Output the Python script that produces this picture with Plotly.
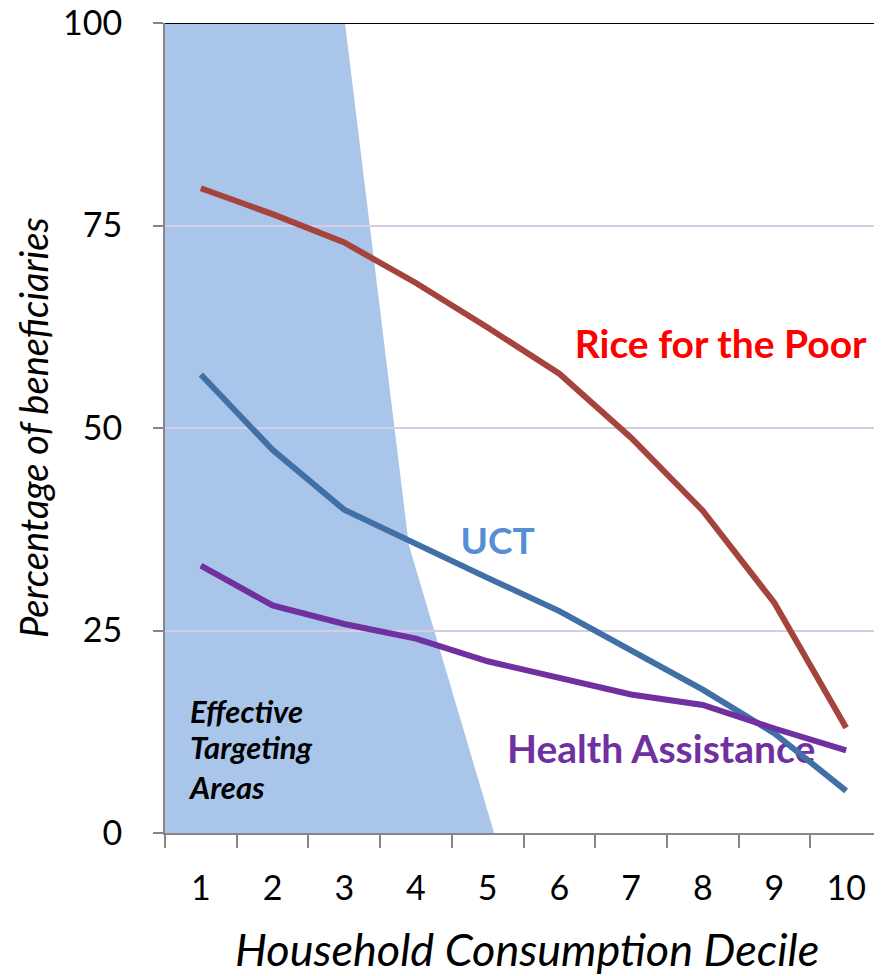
import plotly.graph_objects as go

deciles = [1, 2, 3, 4, 5, 6, 7, 8, 9, 10]
tick_labels = ["1", "2", "3", "4", "5", "6", "7", "8", "9", "10"]
rice = [79.6, 76.4, 72.9, 67.9, 62.4, 56.7, 48.8, 39.8, 28.4, 13.0]
uct = [56.6, 47.3, 39.9, 35.6, 31.5, 27.4, 22.6, 17.7, 12.3, 5.2]
health = [33.0, 28.1, 25.8, 24.0, 21.2, 19.1, 17.1, 15.8, 12.9, 10.2]

# Effective targeting area boundary (decile units, percent)
shade_x = [0.5, 3.01, 3.90, 5.09, 0.5]
shade_y = [100, 100, 35.6, 0, 0]

y_ticks = [0, 25, 50, 75, 100]

FONT = "Lato"

fig = go.Figure()

# Series labels (drawn under the lines)
fig.add_trace(go.Scatter(x=[8.25], y=[59.8], mode="text", text=["Rice for the Poor"],
                         textfont=dict(family=FONT, size=39, color="#FF0000", weight="bold"),
                         hoverinfo="skip", showlegend=False))
fig.add_trace(go.Scatter(x=[5.14], y=[35.6], mode="text", text=["UCT"],
                         textfont=dict(family=FONT, size=37, color="#558ED5", weight="bold"),
                         hoverinfo="skip", showlegend=False))
fig.add_trace(go.Scatter(x=[7.42], y=[9.9], mode="text", text=["Health Assistance"],
                         textfont=dict(family=FONT, size=39, color="#7030A0", weight="bold"),
                         hoverinfo="skip", showlegend=False))
fig.add_trace(go.Scatter(x=[0.85, 0.85, 0.85], y=[14.5, 10.1, 5.2], mode="text",
                         text=["Effective", "Targeting", "Areas"], textposition="middle right",
                         textfont=dict(family=FONT, size=31, color="#000000", weight="bold", style="italic"),
                         hoverinfo="skip", showlegend=False))

fig.add_trace(go.Scatter(x=deciles, y=rice, mode="lines", name="Rice for the Poor",
                         line=dict(color="#A5433D", width=6), showlegend=False))
fig.add_trace(go.Scatter(x=deciles, y=uct, mode="lines", name="UCT",
                         line=dict(color="#4170A7", width=6), showlegend=False))
fig.add_trace(go.Scatter(x=deciles, y=health, mode="lines", name="Health Assistance",
                         line=dict(color="#7030A0", width=6), showlegend=False))

# dummy trace for label axis
fig.add_trace(go.Scatter(x=deciles, y=[None] * 10, xaxis="x2", mode="lines",
                         showlegend=False, hoverinfo="skip"))

path = "M " + " L ".join(f"{x},{y}" for x, y in zip(shade_x, shade_y)) + " Z"
fig.add_shape(type="path", path=path, xref="x", yref="y", layer="below",
              fillcolor="#A9C6EA", line=dict(width=0))
fig.add_shape(type="line", xref="paper", yref="y", x0=0, x1=1, y0=100, y1=100,
              line=dict(color="#000000", width=2), layer="above")

fig.add_annotation(text="Percentage of beneficiaries", xref="paper", yref="paper",
                   x=-0.184, y=0.5, xanchor="center", yanchor="middle",
                   textangle=-90, showarrow=False,
                   font=dict(family=FONT, size=38, color="#000000", style="italic"))
fig.add_annotation(text="Household Consumption Decile", xref="paper", yref="paper",
                   x=0.505, y=-0.143, xanchor="center", yanchor="middle", showarrow=False,
                   font=dict(family=FONT, size=45, color="#000000", style="italic"))

fig.update_layout(
    width=882, height=976,
    margin=dict(l=157, r=8, t=15, b=151, autoexpand=False),
    paper_bgcolor="white", plot_bgcolor="white",
    showlegend=False,
    xaxis=dict(range=[0.5, 10.5], tickvals=[i + 0.5 for i in range(11)],
               ticktext=[""] * 11, ticks="outside", ticklen=13, tickcolor="#868686",
               tickwidth=2, showline=True, linecolor="#868686", linewidth=2,
               showgrid=False, zeroline=False, fixedrange=True, automargin=False),
    xaxis2=dict(range=[0.5, 10.5], overlaying="x", anchor="y", side="bottom",
                tickvals=deciles, ticktext=tick_labels, ticks="", showline=False,
                showgrid=False, zeroline=False, ticklabelstandoff=32,
                ticklabeloverflow="allow", automargin=False,
                tickfont=dict(family=FONT, size=34, color="#000000")),
    yaxis=dict(range=[0, 100], tickvals=y_ticks, ticks="outside", ticklen=10,
               tickcolor="#868686", tickwidth=2, showline=True, linecolor="#868686",
               linewidth=2, showgrid=True, gridcolor="#D5CDE3", gridwidth=2,
               zeroline=False, ticklabelstandoff=24, ticklabeloverflow="allow",
               automargin=False,
               tickfont=dict(family=FONT, size=34, color="#000000")),
)

fig.write_html("out.html")
